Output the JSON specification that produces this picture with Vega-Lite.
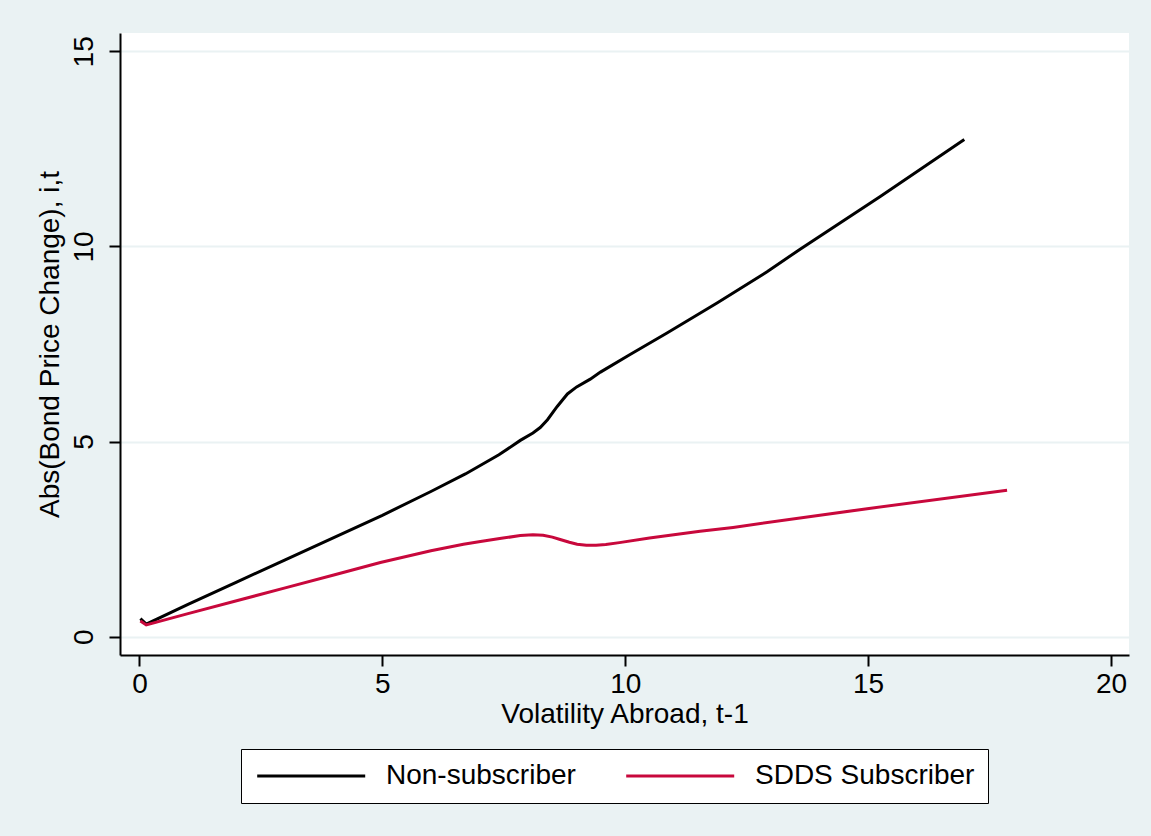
{
  "$schema": "https://vega.github.io/schema/vega-lite/v6.json",
  "width": 1009,
  "height": 622,
  "autosize": {"type": "none"},
  "padding": {"left": 120, "top": 33, "right": 22, "bottom": 181},
  "background": "#EAF2F3",
  "config": {
    "font": "Liberation Sans",
    "view": {"fill": "white", "stroke": null}
  },
  "data": {
    "values": [
      {"vol": 0.02, "change": 0.46, "group": "Non-subscriber"},
      {"vol": 0.14, "change": 0.32, "group": "Non-subscriber"},
      {"vol": 1.0, "change": 0.83, "group": "Non-subscriber"},
      {"vol": 2.0, "change": 1.4, "group": "Non-subscriber"},
      {"vol": 3.0, "change": 1.97, "group": "Non-subscriber"},
      {"vol": 4.0, "change": 2.54, "group": "Non-subscriber"},
      {"vol": 5.0, "change": 3.11, "group": "Non-subscriber"},
      {"vol": 6.0, "change": 3.72, "group": "Non-subscriber"},
      {"vol": 6.71, "change": 4.17, "group": "Non-subscriber"},
      {"vol": 7.4, "change": 4.66, "group": "Non-subscriber"},
      {"vol": 7.84, "change": 5.03, "group": "Non-subscriber"},
      {"vol": 8.1, "change": 5.22, "group": "Non-subscriber"},
      {"vol": 8.25, "change": 5.36, "group": "Non-subscriber"},
      {"vol": 8.4, "change": 5.56, "group": "Non-subscriber"},
      {"vol": 8.6, "change": 5.9, "group": "Non-subscriber"},
      {"vol": 8.81, "change": 6.22, "group": "Non-subscriber"},
      {"vol": 9.0, "change": 6.4, "group": "Non-subscriber"},
      {"vol": 9.28, "change": 6.6, "group": "Non-subscriber"},
      {"vol": 9.49, "change": 6.78, "group": "Non-subscriber"},
      {"vol": 10.1, "change": 7.23, "group": "Non-subscriber"},
      {"vol": 10.86, "change": 7.78, "group": "Non-subscriber"},
      {"vol": 11.89, "change": 8.55, "group": "Non-subscriber"},
      {"vol": 12.92, "change": 9.35, "group": "Non-subscriber"},
      {"vol": 13.6, "change": 9.93, "group": "Non-subscriber"},
      {"vol": 15.25, "change": 11.28, "group": "Non-subscriber"},
      {"vol": 16.98, "change": 12.74, "group": "Non-subscriber"},
      {"vol": 0.02, "change": 0.4, "group": "SDDS Subscriber"},
      {"vol": 0.14, "change": 0.3, "group": "SDDS Subscriber"},
      {"vol": 1.0, "change": 0.59, "group": "SDDS Subscriber"},
      {"vol": 2.0, "change": 0.92, "group": "SDDS Subscriber"},
      {"vol": 3.0, "change": 1.25, "group": "SDDS Subscriber"},
      {"vol": 4.0, "change": 1.58, "group": "SDDS Subscriber"},
      {"vol": 4.96, "change": 1.9, "group": "SDDS Subscriber"},
      {"vol": 6.0, "change": 2.2, "group": "SDDS Subscriber"},
      {"vol": 6.67, "change": 2.37, "group": "SDDS Subscriber"},
      {"vol": 7.02, "change": 2.44, "group": "SDDS Subscriber"},
      {"vol": 7.45, "change": 2.52, "group": "SDDS Subscriber"},
      {"vol": 7.84, "change": 2.59, "group": "SDDS Subscriber"},
      {"vol": 8.1, "change": 2.61, "group": "SDDS Subscriber"},
      {"vol": 8.31, "change": 2.6, "group": "SDDS Subscriber"},
      {"vol": 8.5, "change": 2.55, "group": "SDDS Subscriber"},
      {"vol": 8.66, "change": 2.49, "group": "SDDS Subscriber"},
      {"vol": 8.85, "change": 2.42, "group": "SDDS Subscriber"},
      {"vol": 9.01, "change": 2.37, "group": "SDDS Subscriber"},
      {"vol": 9.2, "change": 2.34, "group": "SDDS Subscriber"},
      {"vol": 9.4, "change": 2.34, "group": "SDDS Subscriber"},
      {"vol": 9.6, "change": 2.36, "group": "SDDS Subscriber"},
      {"vol": 9.88, "change": 2.41, "group": "SDDS Subscriber"},
      {"vol": 10.5, "change": 2.53, "group": "SDDS Subscriber"},
      {"vol": 11.54, "change": 2.7, "group": "SDDS Subscriber"},
      {"vol": 12.22, "change": 2.8, "group": "SDDS Subscriber"},
      {"vol": 14.98, "change": 3.28, "group": "SDDS Subscriber"},
      {"vol": 17.86, "change": 3.75, "group": "SDDS Subscriber"}
    ]
  },
  "mark": {"type": "line", "strokeWidth": 3, "interpolate": "linear"},
  "encoding": {
    "x": {
      "field": "vol",
      "type": "quantitative",
      "scale": {"domain": [-0.4, 20.37], "nice": false, "zero": false},
      "axis": {
        "values": [0, 5, 10, 15, 20],
        "grid": false,
        "domainColor": "black",
        "domainWidth": 2,
        "tickColor": "black",
        "tickWidth": 2,
        "tickSize": 11,
        "labelFontSize": 28,
        "labelColor": "black",
        "labelPadding": 4,
        "title": "Volatility Abroad, t-1",
        "titleFontSize": 28,
        "titleFontWeight": "normal",
        "titleColor": "black",
        "titlePadding": 2
      }
    },
    "y": {
      "field": "change",
      "type": "quantitative",
      "scale": {"domain": [-0.47, 15.47], "nice": false, "zero": false},
      "axis": {
        "values": [0, 5, 10, 15],
        "grid": true,
        "gridColor": "#EAF2F3",
        "gridWidth": 2,
        "domainColor": "black",
        "domainWidth": 2,
        "tickColor": "black",
        "tickWidth": 2,
        "tickSize": 11,
        "labelAngle": -90,
        "labelFontSize": 28,
        "labelColor": "black",
        "labelPadding": 11,
        "title": "Abs(Bond Price Change), i,t",
        "titleFontSize": 28,
        "titleFontWeight": "normal",
        "titleColor": "black",
        "titlePadding": 6
      }
    },
    "color": {
      "field": "group",
      "type": "nominal",
      "scale": {"domain": ["Non-subscriber", "SDDS Subscriber"], "range": ["#000000", "#C8083C"]},
      "legend": {
        "title": null,
        "orient": "none",
        "legendX": 121,
        "legendY": 716,
        "direction": "horizontal",
        "symbolType": "M-1,0H9",
        "symbolStrokeWidth": 3,
        "symbolSize": 466.6,
        "labelFontSize": 28,
        "labelColor": "black",
        "labelLimit": 0,
        "labelOffset": 104,
        "columnPadding": 44,
        "strokeColor": "black",
        "fillColor": "white",
        "padding": 13
      }
    }
  }
}
